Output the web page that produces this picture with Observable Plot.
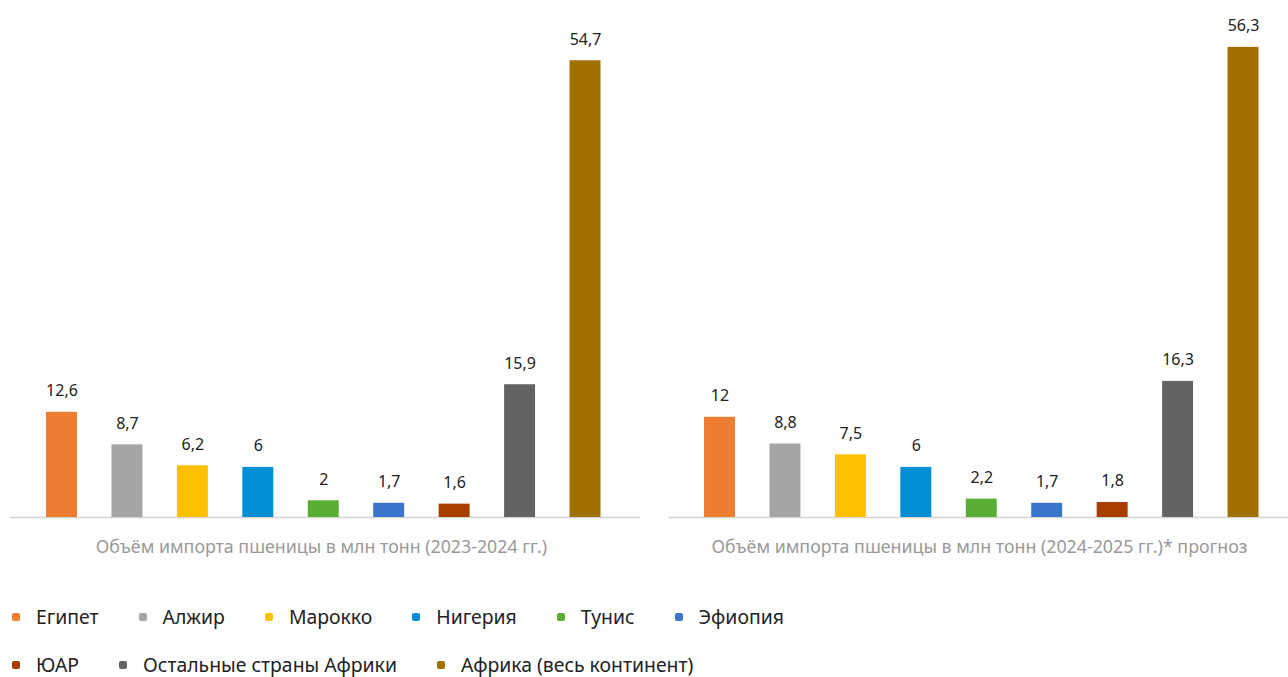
<!DOCTYPE html>
<html>
<head>
<meta charset="utf-8">
<script src="https://cdn.jsdelivr.net/npm/d3@7"></script>
<script src="https://cdn.jsdelivr.net/npm/@observablehq/plot@0.6"></script>
<style>
  body { margin: 0; background: #fff; font-family: "Noto Sans", sans-serif; }
  #chart { position: relative; width: 1288px; height: 677px; overflow: hidden; }
  #legend { position: absolute; left: 11px; top: 606px; width: 830px; display: flex; flex-wrap: wrap; row-gap: 26px; column-gap: 0; }
  .item { display: flex; align-items: center; height: 22px; line-height: 1; margin-right: 39px; font-size: 19.4px; color: #222; }
  .sw { width: 8px; height: 8px; border-radius: 2px; margin-right: 16px; margin-left: 1px; }
</style>
</head>
<body>
<div id="chart"></div>
<script>
const periods = ["2023-2024", "2024-2025"];
const captions = [
  "Объём импорта пшеницы в млн тонн (2023-2024 гг.)",
  "Объём импорта пшеницы в млн тонн (2024-2025 гг.)* прогноз"
];
const countries = ["Египет", "Алжир", "Марокко", "Нигерия", "Тунис", "Эфиопия", "ЮАР", "Остальные страны Африки", "Африка (весь континент)"];
const colors = ["#ED7D31", "#A5A5A5", "#FFC000", "#008FD5", "#5AAE33", "#3A75CC", "#A83E00", "#636363", "#A07000"];
const values2023 = [12.6, 8.7, 6.2, 6, 2, 1.7, 1.6, 15.9, 54.7];
const values2024 = [12, 8.8, 7.5, 6, 2.2, 1.7, 1.8, 16.3, 56.3];

const data = [
  ...countries.map((c, i) => ({period: periods[0], country: c, value: values2023[i]})),
  ...countries.map((c, i) => ({period: periods[1], country: c, value: values2024[i]}))
];
const fmt = v => String(v).replace(".", ",");

const plot = Plot.plot({
  width: 1288,
  height: 577,
  marginLeft: 10,
  marginRight: -10,
  marginTop: 16,
  marginBottom: 60,
  style: {fontFamily: "'Noto Sans', sans-serif", background: "#fff", overflow: "hidden"},
  fx: {domain: periods, paddingInner: 0.0426, paddingOuter: 0, round: false, axis: null},
  x: {domain: countries, axis: null, paddingInner: 0.527, paddingOuter: 0.577, align: 0.477, round: false},
  y: {domain: [0, 60], axis: null},
  color: {domain: countries, range: colors},
  marks: [
    Plot.ruleY([0], {stroke: "#d4d4d4", strokeWidth: 1.5}),
    Plot.barY(data, {fx: "period", x: "country", y: "value", fill: "country"}),
    Plot.text(data, {fx: "period", x: "country", y: "value", text: d => fmt(d.value), dy: -16, lineAnchor: "bottom", fontSize: 16, fill: "#222"}),
    Plot.axisFx({anchor: "bottom", tickSize: 0, tickPadding: 23, dx: -4, fontSize: 17.8, fill: "#999", label: null, tickFormat: p => captions[periods.indexOf(p)]})
  ]
});
const chart = document.getElementById("chart");
chart.appendChild(plot);

const legend = document.createElement("div");
legend.id = "legend";
countries.forEach((c, i) => {
  const it = document.createElement("div");
  it.className = "item";
  const sw = document.createElement("span");
  sw.className = "sw";
  sw.style.background = colors[i];
  const t = document.createElement("span");
  t.textContent = c;
  it.appendChild(sw); it.appendChild(t);
  legend.appendChild(it);
});
chart.appendChild(legend);
</script>
</body>
</html>
